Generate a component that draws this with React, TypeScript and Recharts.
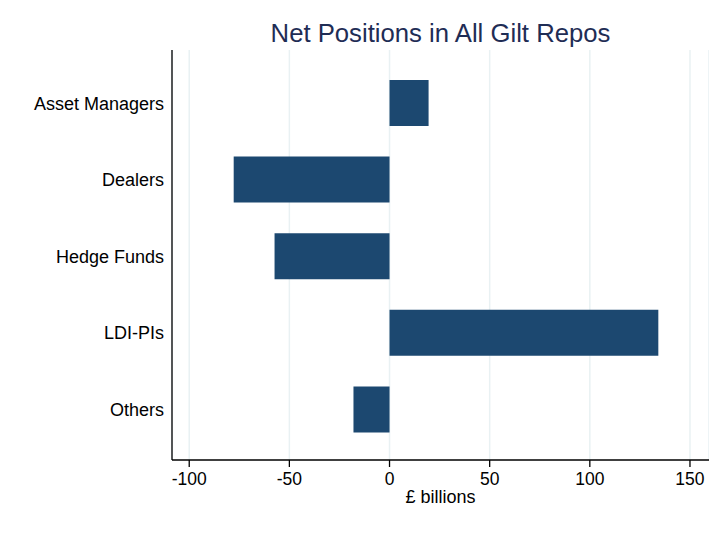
import React from 'react';
import { BarChart, Bar, XAxis, YAxis, CartesianGrid } from 'recharts';

const categories = ['Asset Managers', 'Dealers', 'Hedge Funds', 'LDI-PIs', 'Others'];
const netPositions = [19.5, -77.8, -57.4, 134.2, -18];
const xTicks = [-100, -50, 0, 50, 100, 150];

const data = categories.map((c, i) => ({ name: c, value: netPositions[i] }));

const FONT = '"Liberation Sans", Arial, Helvetica, sans-serif';

export default function App() {
  return (
    <div style={{ position: 'absolute', left: 0, top: 0, width: 709, height: 535, overflow: 'hidden', background: '#fff', fontFamily: FONT }}>
      <div
        style={{
          position: 'absolute',
          left: 172,
          width: 537,
          top: 17,
          textAlign: 'center',
          fontSize: 25.7,
          lineHeight: '32px',
          color: '#1f2d55',
          fontFamily: FONT,
        }}
      >
        Net Positions in All Gilt Repos
      </div>
      <BarChart
        width={714}
        height={535}
        data={data}
        layout="vertical"
        margin={{ top: 50, right: 5, bottom: 0, left: 0 }}
      >
        <CartesianGrid horizontal={false} vertical={true} stroke="#e9f1f3" strokeWidth={1.5} />
        <XAxis
          type="number"
          domain={[-108.6, 159.5]}
          ticks={xTicks}
          allowDataOverflow
          height={75}
          tickSize={7}
          tickMargin={6}
          stroke="#000"
          axisLine={{ stroke: '#000', strokeWidth: 1.3 }}
          tickLine={{ stroke: '#000', strokeWidth: 1.3 }}
          tick={{ fill: '#000', fontSize: 17.5, fontFamily: FONT }}
          label={{ value: '£ billions', position: 'insideBottom', offset: 32, fill: '#000', fontSize: 18, fontFamily: FONT }}
        />
        <YAxis
          type="category"
          dataKey="name"
          width={172}
          padding={{ top: 15, bottom: 12 }}
          tickSize={0}
          tickMargin={8}
          tickLine={false}
          axisLine={{ stroke: '#000', strokeWidth: 1.3 }}
          tick={{ fill: '#000', fontSize: 18, fontFamily: FONT }}
        />
        <Bar dataKey="value" fill="#1c4870" barSize={46} isAnimationActive={false} />
      </BarChart>
    </div>
  );
}
